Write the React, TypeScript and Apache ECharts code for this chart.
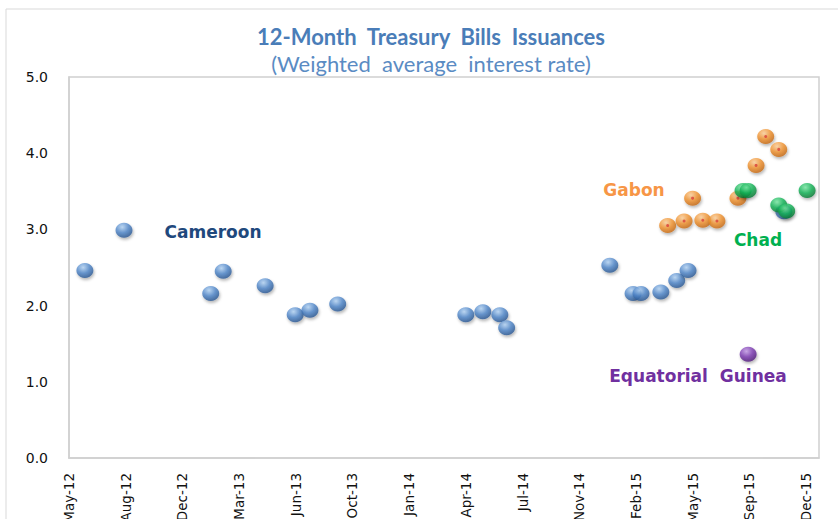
import React, { useEffect, useRef } from "react";
import * as echarts from "echarts";

// ---- Data ----
const BASE_DATE = "2012-05-20"; // x-axis origin (first tick, "May-12")
const X_TICK_STEP_DAYS = 100;
const X_MAX_DAYS = 1323;
const Y_MIN = 0;
const Y_MAX = 5;
const Y_STEP = 1;
const MONTHS = ["Jan", "Feb", "Mar", "Apr", "May", "Jun", "Jul", "Aug", "Sep", "Oct", "Nov", "Dec"];

const cameroonDates = [
  "2012-06-17", "2012-08-25", "2013-01-25", "2013-02-16", "2013-05-01", "2013-06-23",
  "2013-07-19", "2013-09-06", "2014-04-20", "2014-05-20", "2014-06-19", "2014-07-01",
  "2014-12-30", "2015-02-09", "2015-02-23", "2015-03-30", "2015-04-27", "2015-05-17",
  "2015-11-02",
];
const cameroonRates = [
  2.46, 2.99, 2.16, 2.45, 2.26, 1.88,
  1.94, 2.02, 1.88, 1.92, 1.88, 1.71,
  2.53, 2.16, 2.16, 2.18, 2.33, 2.46,
  3.23,
];

const gabonDates = [
  "2015-04-11", "2015-05-10", "2015-05-25", "2015-06-12", "2015-07-07",
  "2015-08-13", "2015-09-14", "2015-10-01", "2015-10-24",
];
const gabonRates = [3.05, 3.11, 3.41, 3.12, 3.11, 3.41, 3.84, 4.22, 4.05];

const chadDates = ["2015-08-22", "2015-08-31", "2015-10-24", "2015-11-07", "2015-12-13"];
const chadRates = [3.51, 3.51, 3.32, 3.24, 3.51];

const eqGuineaDates = ["2015-08-31"];
const eqGuineaRates = [1.36];

// ---- Helpers ----
const DAY_MS = 86400000;
const baseMs = Date.parse(BASE_DATE);
const toDays = (s: string) => (Date.parse(s) - baseMs) / DAY_MS;
const pairs = (dates: string[], vals: number[]) => dates.map((d, i) => [toDays(d), vals[i]]);
const fmtDay = (v: number) => {
  const d = new Date(baseMs + v * DAY_MS);
  return `${MONTHS[d.getUTCMonth()]}-${String(d.getUTCFullYear()).slice(2)}`;
};

const sphere = (hi: string, mid: string, dark: string) => ({
  type: "radial",
  x: 0.4,
  y: 0.3,
  r: 0.75,
  colorStops: [
    { offset: 0, color: hi },
    { offset: 0.5, color: mid },
    { offset: 1, color: dark },
  ],
});

const SHADOW = {
  shadowBlur: 3,
  shadowColor: "rgba(0,0,0,0.35)",
  shadowOffsetX: 1,
  shadowOffsetY: 2,
};

export default function App() {
  const ref = useRef<HTMLDivElement>(null);

  useEffect(() => {
    if (!ref.current) return;
    const chart = echarts.init(ref.current, null, { renderer: "svg" });

    const scatter = (name: string, data: number[][], color: any, z = 2) => ({
      name,
      type: "scatter",
      data,
      symbol: "circle",
      symbolSize: [17, 15],
      z,
      itemStyle: { color, ...SHADOW },
    });

    const annot = (text: string, x: number, y: number, fill: string) => ({
      type: "text",
      x,
      y,
      style: {
        text,
        fontFamily: "DejaVu Sans",
        fontWeight: "bold",
        fontSize: 17,
        fill,
        align: "center",
        verticalAlign: "middle",
      },
    });

    const option: any = {
      animation: false,
      backgroundColor: "#ffffff",
      textStyle: { fontFamily: "DejaVu Sans" },
      grid: {
        left: 69,
        top: 77,
        right: 19,
        bottom: 61,
        outerBoundsMode: "none",
        containLabel: false,
        show: true,
        borderColor: "#d0d0d0",
        borderWidth: 1.5,
        backgroundColor: "transparent",
      },
      xAxis: {
        type: "value",
        min: 0,
        max: X_MAX_DAYS,
        interval: X_TICK_STEP_DAYS,
        splitLine: { show: false },
        axisTick: { show: false },
        axisLine: { show: true, lineStyle: { color: "#d0d0d0", width: 1.5 } },
        axisLabel: {
          rotate: 90,
          margin: 15,
          fontSize: 13.5,
          color: "#111",
          fontFamily: "DejaVu Sans",
          showMaxLabel: false,
          formatter: (v: number) => (v % X_TICK_STEP_DAYS === 0 ? fmtDay(v) : ""),
        },
      },
      yAxis: {
        type: "value",
        min: Y_MIN,
        max: Y_MAX,
        interval: Y_STEP,
        splitLine: { show: false },
        axisTick: { show: false },
        axisLine: { show: true, lineStyle: { color: "#d0d0d0", width: 1.5 } },
        axisLabel: {
          margin: 21,
          fontSize: 14,
          color: "#111",
          fontFamily: "DejaVu Sans",
          formatter: (v: number) => v.toFixed(1),
        },
      },
      graphic: [
        {
          type: "rect",
          shape: { x: 6, y: 9, width: 900, height: 600 },
          style: { fill: "none", stroke: "#d9d9d9", lineWidth: 1 },
          silent: true,
          z: -10,
        },
        {
          type: "text",
          x: 431,
          y: 36,
          style: {
            text: "12-Month  Treasury  Bills  Issuances",
            fontFamily: "Lato",
            fontWeight: "bold",
            fontSize: 22,
            fill: "#4a7db8",
            align: "center",
            verticalAlign: "middle",
          },
        },
        {
          type: "text",
          x: 431,
          y: 63,
          style: {
            text: "(Weighted  average  interest rate)",
            fontFamily: "Lato",
            fontSize: 22,
            fill: "#5a8bc3",
            align: "center",
            verticalAlign: "middle",
          },
        },
        annot("Cameroon", 213, 232, "#1f497d"),
        annot("Gabon", 634, 190, "#f79646"),
        annot("Chad", 758, 240, "#00b050"),
        annot("Equatorial  Guinea", 698, 376, "#7030a0"),
      ],
      series: [
        scatter("Cameroon", pairs(cameroonDates, cameroonRates), sphere("#b4d4f5", "#4f86c9", "#24508a"), 2),
        scatter("Gabon", pairs(gabonDates, gabonRates), sphere("#fdd09c", "#f0922e", "#c0630e"), 3),
        {
          name: "Gabon-dot",
          type: "scatter",
          data: pairs(gabonDates, gabonRates),
          symbolSize: 3,
          z: 4,
          silent: true,
          itemStyle: { color: "#d9403a" },
        },
        scatter("Chad", pairs(chadDates, chadRates), sphere("#7ae8a4", "#12b356", "#05702f"), 5),
        scatter("Equatorial Guinea", pairs(eqGuineaDates, eqGuineaRates), sphere("#c39ae6", "#7a38b0", "#481670"), 5),
      ],
    };

    chart.setOption(option);
    return () => chart.dispose();
  }, []);

  return (
    <div
      ref={ref}
      style={{ position: "fixed", left: 0, top: 0, width: 838, height: 519, background: "#fff" }}
    />
  );
}
